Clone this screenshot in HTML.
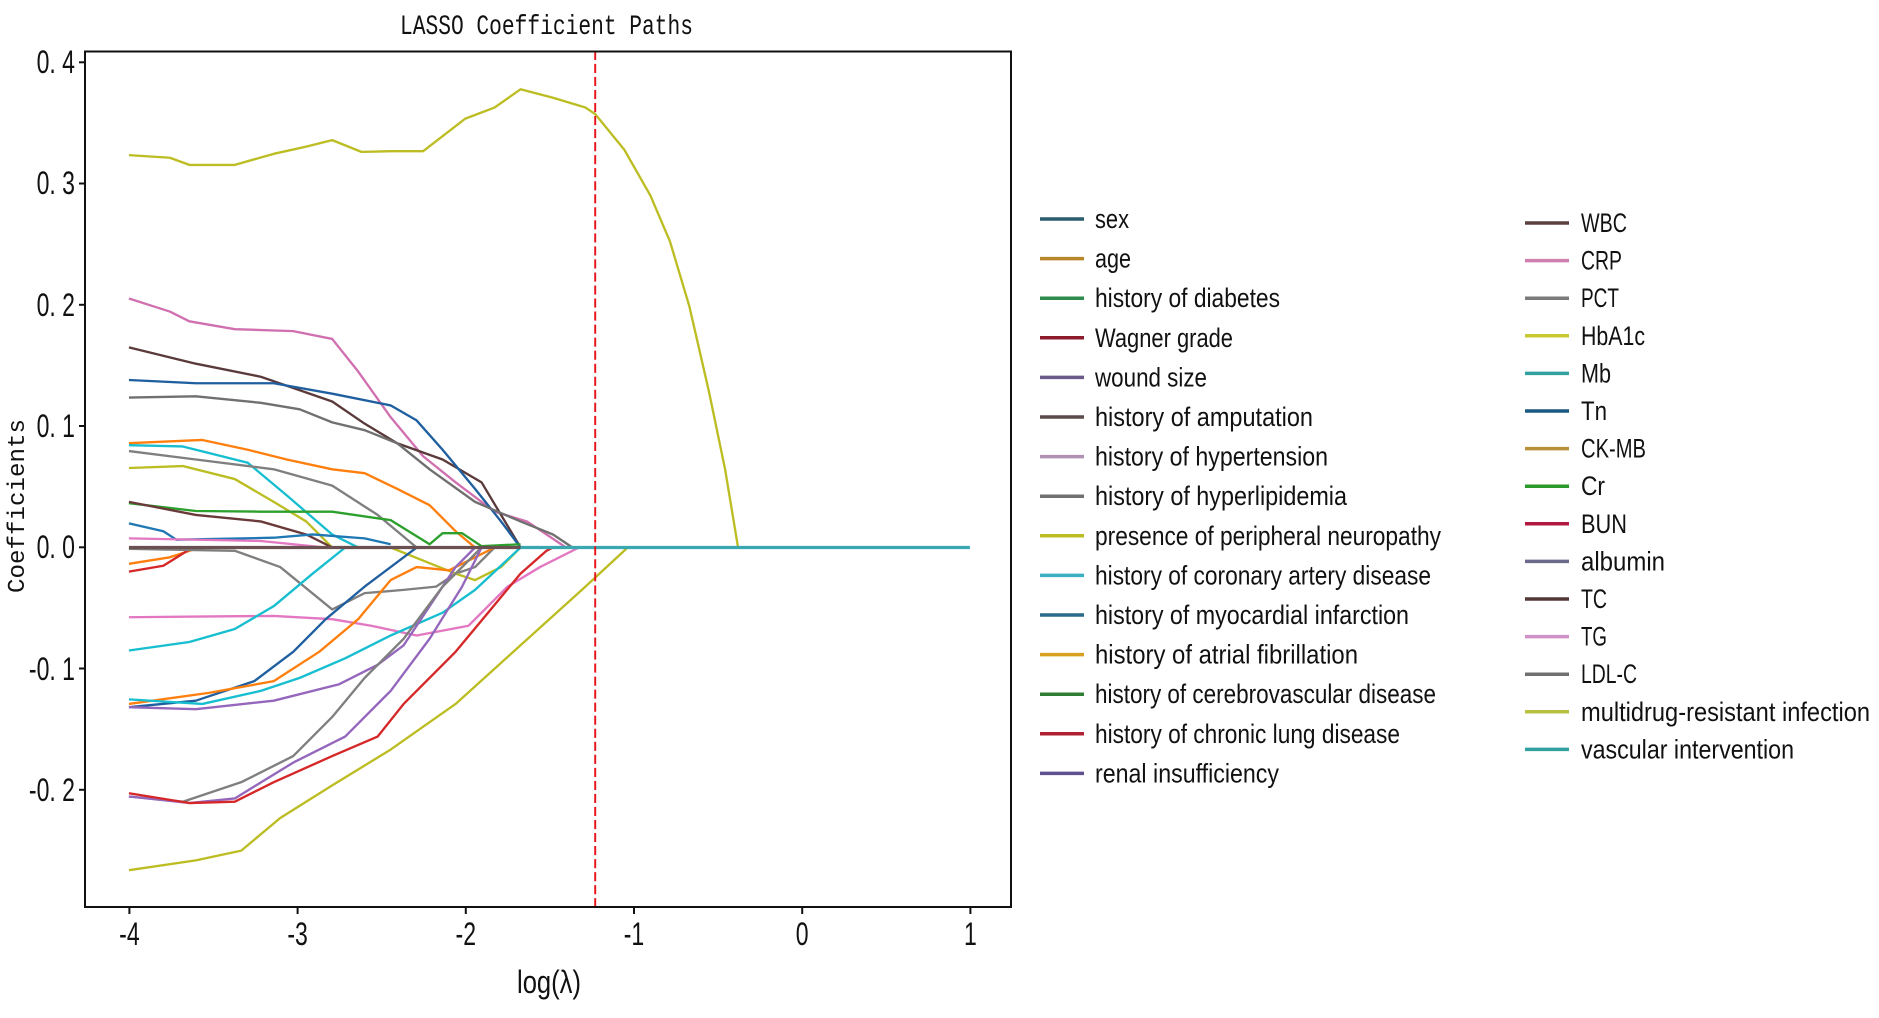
<!DOCTYPE html>
<html><head><meta charset="utf-8"><style>
html,body{margin:0;padding:0;background:#fff;}
svg{display:block;}
.t{font-family:"Liberation Sans Narrow","Liberation Sans",sans-serif;fill:#111;}
.m{font-family:"Liberation Mono",monospace;fill:#111;}
</style></head><body>
<svg width="1879" height="1018" viewBox="0 0 1879 1018" xmlns="http://www.w3.org/2000/svg">
<rect width="1879" height="1018" fill="#fff"/>
<text class="m" x="400" y="34" font-size="28" textLength="293" lengthAdjust="spacingAndGlyphs">LASSO Coefficient Paths</text>
<g transform="translate(1,0) scale(0.6494,0.6518)" fill="none" stroke-width="3.6" stroke-linejoin="round">
<polyline stroke="#bcbd22" points="197,238 260,242 290,253 360,253 420,236 470,225 510,215 555,233 600,232 650,232 715,182 760,165 800,137 850,150 900,165 915,175 960,230 1000,300 1030,370 1060,470 1090,600 1115,720 1135,840"/>
<polyline stroke="#bcbd22" points="197,1335 300,1320 370,1305 430,1255 510,1205 600,1150 700,1080 800,990 900,900 965,840"/>
<polyline stroke="#d070b0" points="197,458 260,478 290,493 360,505 450,508 510,520 550,570 600,640 650,700 700,740 760,785 810,800 870,840"/>
<polyline stroke="#5a3a3a" points="197,533 300,558 400,578 510,616 560,650 610,680 680,705 740,740 800,840"/>
<polyline stroke="#1f5f9f" points="197,583 300,588 420,588 510,604 600,622 640,645 680,690 730,750 770,800 800,840"/>
<polyline stroke="#707070" points="197,610 300,608 400,618 460,628 510,648 560,660 610,680 660,720 730,770 800,800 850,820 880,840"/>
<polyline stroke="#ff7f0e" points="197,680 310,675 380,690 440,705 510,720 560,726 610,750 660,775 700,815 730,840"/>
<polyline stroke="#17becf" points="197,683 280,685 380,710 440,760 510,820 550,840"/>
<polyline stroke="#7f7f7f" points="197,692 300,705 420,720 510,745 580,790 640,840"/>
<polyline stroke="#bcbd22" points="197,718 280,715 360,735 420,770 470,800 510,840"/>
<polyline stroke="#2ca02c" points="197,772 300,784 400,785 510,785 600,798 660,835 680,818 710,818 740,838 800,835"/>
<polyline stroke="#6a3a3a" points="197,770 300,790 400,800 470,820 510,840"/>
<polyline stroke="#1f77b4" points="197,803 250,815 270,828 420,825 480,820 560,826 600,835"/>
<polyline stroke="#e377c2" points="197,826 400,830 500,840"/>
<polyline stroke="#ff7f0e" points="197,865 260,855 300,842"/>
<polyline stroke="#d62728" points="197,877 250,868 290,843"/>
<polyline stroke="#7f7f7f" points="197,842 360,845 430,870 510,935 560,910 620,905 670,900 700,880 730,870 760,840"/>
<polyline stroke="#bcbd22" points="600,840 650,860 700,880 730,890 770,870 800,840"/>
<polyline stroke="#e377c2" points="197,947 300,946 420,945 510,950 570,960 640,975 720,960 780,900 830,870 890,840"/>
<polyline stroke="#17becf" points="197,998 290,985 360,965 420,930 480,880 530,840"/>
<polyline stroke="#1f5f9f" points="197,1085 300,1075 390,1045 450,1000 500,950 560,900 640,840"/>
<polyline stroke="#ff7f0e" points="197,1080 320,1063 420,1045 490,1000 550,950 600,890 640,870 690,875 720,860 760,840"/>
<polyline stroke="#17becf" points="197,1073 310,1080 400,1060 460,1040 530,1010 600,975 680,940 730,905 800,840"/>
<polyline stroke="#9467bd" points="197,1085 300,1088 420,1075 520,1050 580,1020 620,990 660,930 700,870 730,840"/>
<polyline stroke="#7f7f7f" points="197,1222 280,1230 370,1200 450,1160 510,1100 560,1040 620,980 680,900 740,840"/>
<polyline stroke="#9467bd" points="197,1222 290,1232 360,1225 450,1170 530,1130 600,1060 660,980 710,900 740,840"/>
<polyline stroke="#d62728" points="197,1217 290,1232 360,1230 420,1200 510,1160 580,1130 620,1080 700,1000 750,940 800,880 840,845 850,840"/>
<line x1="197" y1="840" x2="800" y2="840" stroke="#6a5050" stroke-width="5"/>
<line x1="800" y1="840" x2="1492" y2="840" stroke="#3aa8b0" stroke-width="5"/>
<line x1="915" y1="78" x2="915" y2="1397" stroke="#e8141c" stroke-width="3" stroke-dasharray="14,6"/>
</g>
<rect x="85" y="51.5" width="926" height="855.5" fill="none" stroke="#111" stroke-width="2"/>
<g stroke="#111" stroke-width="2">
<line x1="79" y1="62.3" x2="85" y2="62.3"/><line x1="79" y1="183.5" x2="85" y2="183.5"/><line x1="79" y1="304.8" x2="85" y2="304.8"/><line x1="79" y1="426" x2="85" y2="426"/><line x1="79" y1="547.3" x2="85" y2="547.3"/><line x1="79" y1="668.5" x2="85" y2="668.5"/><line x1="79" y1="789.8" x2="85" y2="789.8"/>
<line x1="129.4" y1="907" x2="129.4" y2="914"/><line x1="297.6" y1="907" x2="297.6" y2="914"/><line x1="465.8" y1="907" x2="465.8" y2="914"/><line x1="634" y1="907" x2="634" y2="914"/><line x1="802.2" y1="907" x2="802.2" y2="914"/><line x1="970.4" y1="907" x2="970.4" y2="914"/>
</g>
<g class="t" font-size="32" text-anchor="end">
<text transform="translate(75,73) scale(0.72,1)">0. 4</text>
<text transform="translate(75,194) scale(0.72,1)">0. 3</text>
<text transform="translate(75,316) scale(0.72,1)">0. 2</text>
<text transform="translate(75,437) scale(0.72,1)">0. 1</text>
<text transform="translate(75,558) scale(0.72,1)">0. 0</text>
<text transform="translate(75,680) scale(0.72,1)">-0. 1</text>
<text transform="translate(75,801) scale(0.72,1)">-0. 2</text>
</g>
<g class="t" font-size="32" text-anchor="middle">
<text transform="translate(129.4,945) scale(0.72,1)">-4</text>
<text transform="translate(297.6,945) scale(0.72,1)">-3</text>
<text transform="translate(465.8,945) scale(0.72,1)">-2</text>
<text transform="translate(634,945) scale(0.72,1)">-1</text>
<text transform="translate(802.2,945) scale(0.72,1)">0</text>
<text transform="translate(970.4,945) scale(0.72,1)">1</text>
<text transform="translate(549,993) scale(0.8,1)">log(λ)</text>
</g>
<text class="m" font-size="24" text-anchor="middle" textLength="174" lengthAdjust="spacingAndGlyphs" transform="translate(24,506) rotate(-90)">Coefficients</text>
<g stroke-width="3.5">
<line x1="1040" x2="1084" y1="219" y2="219" stroke="#2a5d6e"/>
<line x1="1040" x2="1084" y1="258.6" y2="258.6" stroke="#b8862b"/>
<line x1="1040" x2="1084" y1="298.2" y2="298.2" stroke="#2e8b4e"/>
<line x1="1040" x2="1084" y1="337.8" y2="337.8" stroke="#8b1a2b"/>
<line x1="1040" x2="1084" y1="377.4" y2="377.4" stroke="#6a5a8a"/>
<line x1="1040" x2="1084" y1="417" y2="417" stroke="#5a4a4a"/>
<line x1="1040" x2="1084" y1="456.6" y2="456.6" stroke="#b090b0"/>
<line x1="1040" x2="1084" y1="496.2" y2="496.2" stroke="#707070"/>
<line x1="1040" x2="1084" y1="535.8" y2="535.8" stroke="#bcbd22"/>
<line x1="1040" x2="1084" y1="575.4" y2="575.4" stroke="#3ab0c0"/>
<line x1="1040" x2="1084" y1="615" y2="615" stroke="#2a6a8a"/>
<line x1="1040" x2="1084" y1="654.6" y2="654.6" stroke="#d8a020"/>
<line x1="1040" x2="1084" y1="694.2" y2="694.2" stroke="#2e7d32"/>
<line x1="1040" x2="1084" y1="733.8" y2="733.8" stroke="#b02030"/>
<line x1="1040" x2="1084" y1="773.4" y2="773.4" stroke="#605090"/>
</g>
<g class="t" font-size="27">
<text x="1095" y="228" textLength="34" lengthAdjust="spacingAndGlyphs">sex</text>
<text x="1095" y="267.6" textLength="36" lengthAdjust="spacingAndGlyphs">age</text>
<text x="1095" y="307.2" textLength="185" lengthAdjust="spacingAndGlyphs">history of diabetes</text>
<text x="1095" y="346.8" textLength="138" lengthAdjust="spacingAndGlyphs">Wagner grade</text>
<text x="1095" y="386.4" textLength="112" lengthAdjust="spacingAndGlyphs">wound size</text>
<text x="1095" y="426" textLength="218" lengthAdjust="spacingAndGlyphs">history of amputation</text>
<text x="1095" y="465.6" textLength="233" lengthAdjust="spacingAndGlyphs">history of hypertension</text>
<text x="1095" y="505.2" textLength="252" lengthAdjust="spacingAndGlyphs">history of hyperlipidemia</text>
<text x="1095" y="544.8" textLength="346" lengthAdjust="spacingAndGlyphs">presence of peripheral neuropathy</text>
<text x="1095" y="584.4" textLength="336" lengthAdjust="spacingAndGlyphs">history of coronary artery disease</text>
<text x="1095" y="624" textLength="314" lengthAdjust="spacingAndGlyphs">history of myocardial infarction</text>
<text x="1095" y="663.6" textLength="263" lengthAdjust="spacingAndGlyphs">history of atrial fibrillation</text>
<text x="1095" y="703.2" textLength="341" lengthAdjust="spacingAndGlyphs">history of cerebrovascular disease</text>
<text x="1095" y="742.8" textLength="305" lengthAdjust="spacingAndGlyphs">history of chronic lung disease</text>
<text x="1095" y="782.4" textLength="184" lengthAdjust="spacingAndGlyphs">renal insufficiency</text>
</g>
<g stroke-width="3.5">
<line x1="1525" x2="1569" y1="223" y2="223" stroke="#5a4040"/>
<line x1="1525" x2="1569" y1="260.6" y2="260.6" stroke="#d080b0"/>
<line x1="1525" x2="1569" y1="298.2" y2="298.2" stroke="#7a7a7a"/>
<line x1="1525" x2="1569" y1="335.8" y2="335.8" stroke="#c8c830"/>
<line x1="1525" x2="1569" y1="373.4" y2="373.4" stroke="#30a0a0"/>
<line x1="1525" x2="1569" y1="411" y2="411" stroke="#1a5a80"/>
<line x1="1525" x2="1569" y1="448.6" y2="448.6" stroke="#b8903a"/>
<line x1="1525" x2="1569" y1="486.2" y2="486.2" stroke="#2a9a2a"/>
<line x1="1525" x2="1569" y1="523.8" y2="523.8" stroke="#b01840"/>
<line x1="1525" x2="1569" y1="561.4" y2="561.4" stroke="#6a6a8a"/>
<line x1="1525" x2="1569" y1="599" y2="599" stroke="#503838"/>
<line x1="1525" x2="1569" y1="636.6" y2="636.6" stroke="#d090c8"/>
<line x1="1525" x2="1569" y1="674.2" y2="674.2" stroke="#707070"/>
<line x1="1525" x2="1569" y1="711.8" y2="711.8" stroke="#b8c040"/>
<line x1="1525" x2="1569" y1="749.4" y2="749.4" stroke="#30a0a0"/>
</g>
<g class="t" font-size="27">
<text x="1581" y="232" textLength="46" lengthAdjust="spacingAndGlyphs">WBC</text>
<text x="1581" y="269.6" textLength="41" lengthAdjust="spacingAndGlyphs">CRP</text>
<text x="1581" y="307.2" textLength="38" lengthAdjust="spacingAndGlyphs">PCT</text>
<text x="1581" y="344.8" textLength="64" lengthAdjust="spacingAndGlyphs">HbA1c</text>
<text x="1581" y="382.4" textLength="30" lengthAdjust="spacingAndGlyphs">Mb</text>
<text x="1581" y="420" textLength="26" lengthAdjust="spacingAndGlyphs">Tn</text>
<text x="1581" y="457.6" textLength="65" lengthAdjust="spacingAndGlyphs">CK-MB</text>
<text x="1581" y="495.2" textLength="24" lengthAdjust="spacingAndGlyphs">Cr</text>
<text x="1581" y="532.8" textLength="46" lengthAdjust="spacingAndGlyphs">BUN</text>
<text x="1581" y="570.4" textLength="84" lengthAdjust="spacingAndGlyphs">albumin</text>
<text x="1581" y="608" textLength="26" lengthAdjust="spacingAndGlyphs">TC</text>
<text x="1581" y="645.6" textLength="26" lengthAdjust="spacingAndGlyphs">TG</text>
<text x="1581" y="683.2" textLength="56" lengthAdjust="spacingAndGlyphs">LDL-C</text>
<text x="1581" y="720.8" textLength="289" lengthAdjust="spacingAndGlyphs">multidrug-resistant infection</text>
<text x="1581" y="758.4" textLength="213" lengthAdjust="spacingAndGlyphs">vascular intervention</text>
</g>
</svg>
</body></html>
